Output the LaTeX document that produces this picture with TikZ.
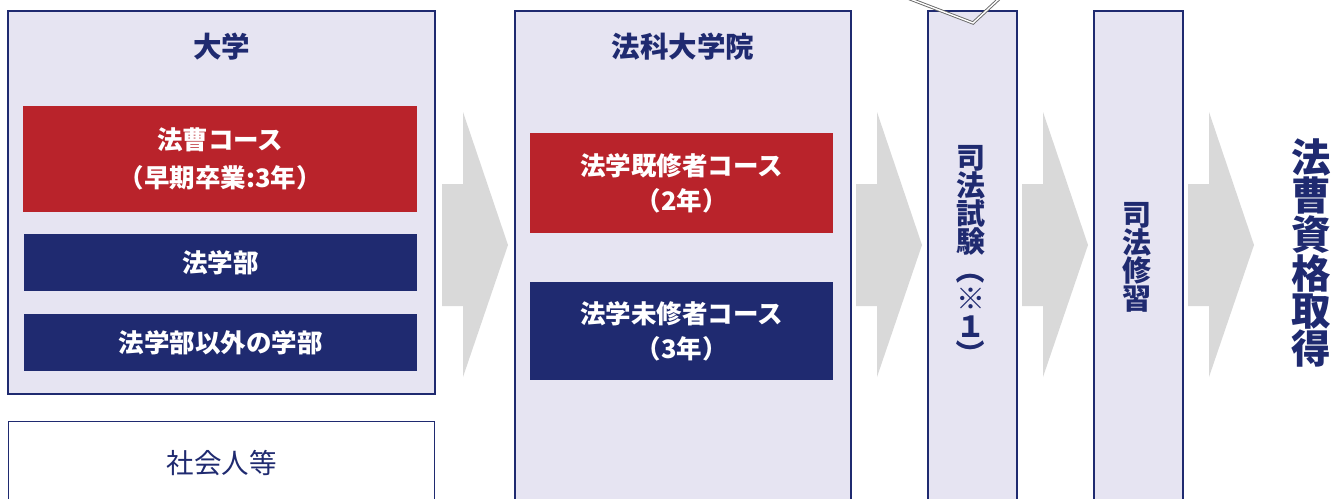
\documentclass[tikz,border=0pt]{standalone}
\usepackage{fontspec}
\usepackage{graphicx}
\setmainfont{Noto Sans CJK JP}
\usetikzlibrary{positioning}

\definecolor{navy}{HTML}{1F2A70}
\definecolor{lawred}{HTML}{B9232B}
\definecolor{lavender}{HTML}{E6E4F2}
\definecolor{arrowgray}{HTML}{D9D9D9}

\newcommand{\vparen}[1]{\rotatebox[origin=c]{-90}{#1}}

\tikzset{
  panel/.style={draw=navy, line width=2pt, fill=lavender, anchor=north west, inner sep=0pt},
  course/.style={fill=#1, text=white, anchor=north west, inner sep=0pt, align=center,
    font=\bfseries\fontsize{25.5}{35}\selectfont},
  title/.style={text=navy, font=\bfseries\fontsize{28.5}{30}\selectfont},
  vtext/.style={text=navy, align=center, inner sep=0pt, font=\bfseries\fontsize{29}{28}\selectfont},
  flow/.style={fill=arrowgray}
}

\begin{document}
\begin{tikzpicture}[x=1pt,y=-1pt]
  \useasboundingbox (0,0) rectangle (1340,498);

  % 大学
  \node[panel, minimum width=427pt, minimum height=383pt] (daigaku) at (7,10) {};
  \node[title] (daigakuTitle) at ([yshift=-37pt]daigaku.north) {大学};
  \node[course=lawred, minimum width=394pt, minimum height=106pt] (hoso) at (23,106)
    {法曹コース\\[3pt]（早期卒業:3年）};
  \node[course=navy, minimum width=393pt, minimum height=57pt] (hogakubu) at (24,234) {法学部};
  \node[course=navy, minimum width=393pt, minimum height=57pt] (hogakubuIgai) at (24,314) {法学部以外の学部};

  % 社会人等
  \node[draw=navy, line width=1.2pt, fill=white, anchor=north west,
    minimum width=426pt, minimum height=100pt] (shakaijin) at (8,421) {};
  \node[text=navy, font=\fontsize{27.5}{30}\selectfont] at ([yshift=-42pt]shakaijin.north) {社会人等};

  % 法科大学院
  \node[panel, minimum width=336pt, minimum height=510pt] (daigakuin) at (514,10) {};
  \node[title] (daigakuinTitle) at ([yshift=-37pt]daigakuin.north) {法科大学院};
  \node[course=lawred, minimum width=303pt, minimum height=100pt] (kishusha) at (530,133)
    {法学既修者コース\\（2年）};
  \node[course=navy, minimum width=303pt, minimum height=98pt] (mishusha) at (530,282)
    {法学未修者コース\\（3年）};

  % 司法試験・司法修習
  \node[panel, minimum width=89pt, minimum height=510pt] (shiken) at (927,10) {};
  \node[vtext] (shikenText) at (971,257) {司\\法\\試\\験\\\vparen{（}\\※\\１\\\vparen{）}};
  \node[panel, minimum width=89pt, minimum height=510pt] (shushu) at (1093,10) {};
  \node[vtext] (shushuText) at (1137,257) {司\\法\\修\\習};

  % 法曹資格取得
  \node[vtext, font=\bfseries\fontsize{39.5}{37}\selectfont] (shikaku) at (1311,253)
    {法\\曹\\資\\格\\取\\得};

  % flow arrows
  \fill[flow] (442,184) -- ++(21,0) -- ++(0,-72) -- ++(45,133) -- ++(-45,132) -- ++(0,-71) -- ++(-21,0) -- cycle;
  \fill[flow] (856,184) -- ++(21,0) -- ++(0,-72) -- ++(45,133) -- ++(-45,132) -- ++(0,-71) -- ++(-21,0) -- cycle;
  \fill[flow] (1022,184) -- ++(21,0) -- ++(0,-72) -- ++(45,133) -- ++(-45,132) -- ++(0,-71) -- ++(-21,0) -- cycle;
  \fill[flow] (1188,184) -- ++(21,0) -- ++(0,-72) -- ++(45,133) -- ++(-45,132) -- ++(0,-71) -- ++(-21,0) -- cycle;

  % callout pointer (cut off at top)
  \coordinate (tipL) at (905,-3);
  \coordinate (tipR) at (1001,-3);
  \draw[gray!80!black, line width=0.9pt, double=white, double distance=1.4pt] (tipL) -- (973,23) -- (tipR);
\end{tikzpicture}
\end{document}
